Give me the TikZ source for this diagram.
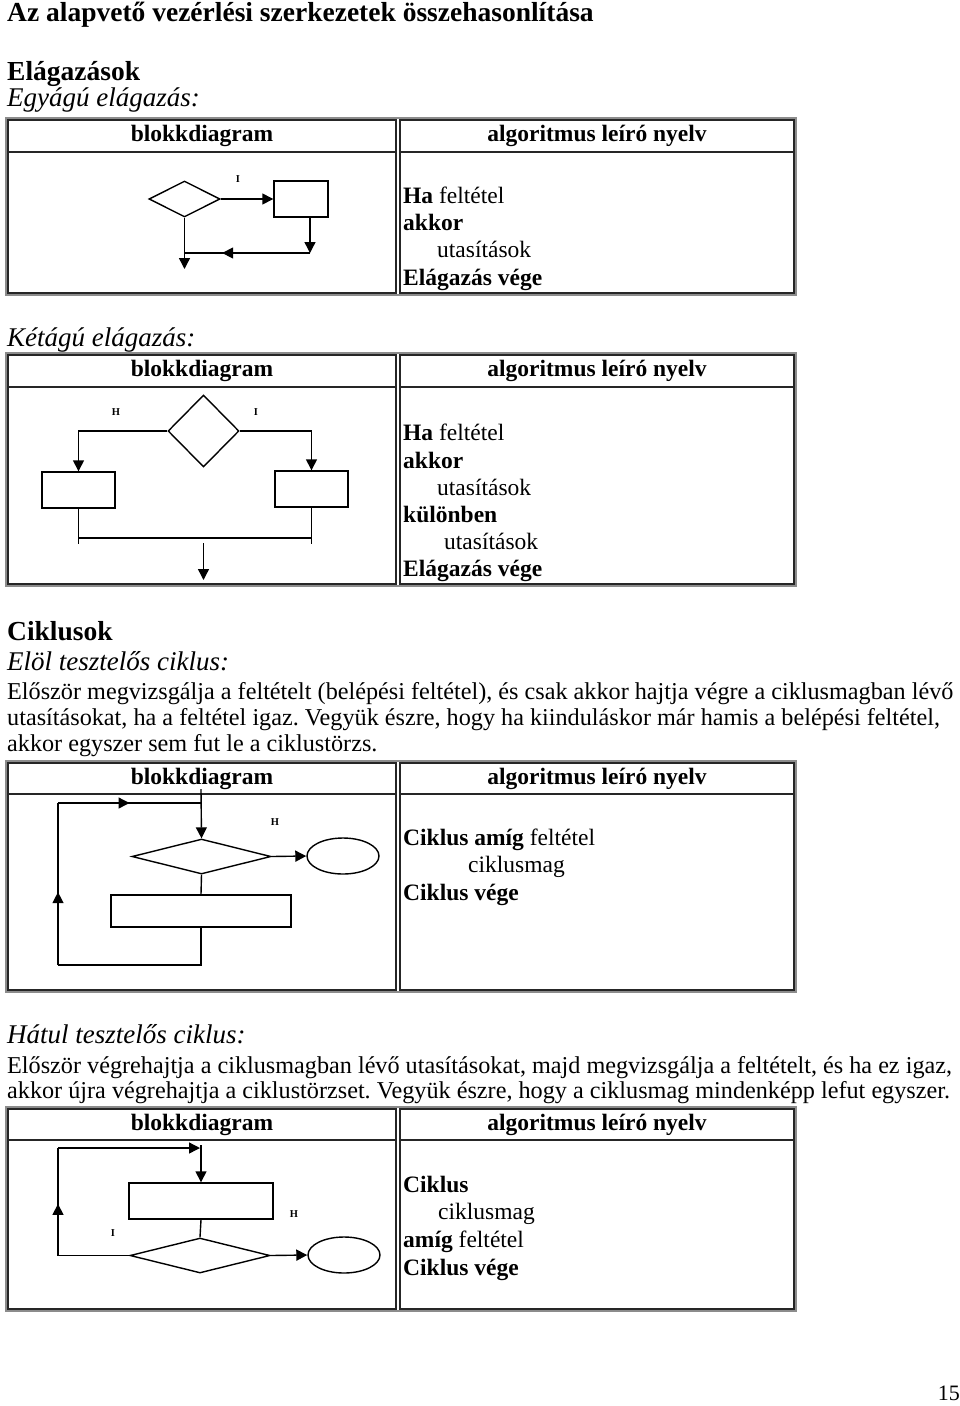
\documentclass[tikz,border=0pt]{standalone}
\usepackage{fontspec}
\setmainfont{Liberation Serif}
\usetikzlibrary{arrows.meta, shapes.geometric, decorations.markings}
\definecolor{rimgray}{HTML}{8C8C8C}
\definecolor{celldark}{HTML}{262626}
\frenchspacing

\begin{document}
\begin{tikzpicture}[x=1pt, y=-1pt,
  >={Triangle[length=11pt, width=11pt]},
  heading/.style={anchor=base west, inner sep=0pt, font=\fontsize{27.5}{33}\selectfont\bfseries},
  subhead/.style={anchor=base west, inner sep=0pt, font=\fontsize{27}{32}\selectfont\itshape},
  para/.style={anchor=base west, inner sep=0pt, font=\fontsize{24.2}{26}\selectfont},
  alg/.style={anchor=base west, inner sep=0pt, font=\fontsize{23.5}{27.3}\selectfont},
  colhead/.style={inner sep=0pt, font=\fontsize{23.5}{28}\selectfont\bfseries},
  lbl/.style={inner sep=0pt, font=\fontsize{10.5}{12}\selectfont\bfseries},
  tblout/.style={draw=rimgray, line width=2.5pt},
  tblcell/.style={draw=celldark, line width=1.3pt},
  decision/.style={diamond, draw, line width=1.4pt, inner sep=0pt},
  process/.style={rectangle, draw, line width=1.4pt, inner sep=0pt},
  terminal/.style={ellipse, draw, line width=1.4pt, inner sep=0pt},
  flow/.style={line width=1.4pt},
  arr/.style={->, line width=1.4pt},
  midarr/.style={line width=1.4pt, postaction={decorate},
    decoration={markings, mark=at position #1 with {\arrow{Triangle[length=11pt, width=11pt]}}}},
]

% Page
\useasboundingbox (0,0) rectangle (960,1406);
\fill[white] (0,0) rectangle (960,1406);

% =============================================
% Tables (frame + column headers)
% =============================================
\foreach \ytop/\yhd/\ybot/\tn in {120/152/293/ta, 355/387/584/tb,
                                  763/794/990/tc, 1109/1140/1309/td}{
  \draw[tblout] (6,\ytop-2) rectangle (796,\ybot+2);
  \draw[tblcell] (8,\ytop) rectangle (396,\yhd) (8,\yhd) rectangle (396,\ybot)
                 (400,\ytop) rectangle (794,\yhd) (400,\yhd) rectangle (794,\ybot);
  \node[colhead] (\tn-bd) at (202,{(\ytop+\yhd)/2}) {blokkdiagram};
  \node[colhead] (\tn-al) at (597,{(\ytop+\yhd)/2}) {algoritmus leíró nyelv};
}

% =============================================
% Headings and paragraphs
% =============================================
\node[heading] (title) at (7,21) {Az alapvető vezérlési szerkezetek összehasonlítása};
\node[heading] (elag) at (7,80.7) {Elágazások};
\node[subhead] (egyag) at (7,106.7) {Egyágú elágazás:};
\node[subhead] (ketag) at (7,346) {Kétágú elágazás:};
\node[heading] (cikl) at (7,640) {Ciklusok};
\node[subhead] (elol) at (7,670) {Elöl tesztelős ciklus:};
\node[para] (p1a) at (7,699.3) {Először megvizsgálja a feltételt (belépési feltétel), és csak akkor hajtja végre a ciklusmagban lévő};
\node[para] (p1b) at (7,725.5) {utasításokat, ha a feltétel igaz. Vegyük észre, hogy ha kiinduláskor már hamis a belépési feltétel,};
\node[para] (p1c) at (7,751.7) {akkor egyszer sem fut le a ciklustörzs.};
\node[subhead] (hatul) at (7,1043.3) {Hátul tesztelős ciklus:};
\node[para] (p2a) at (7,1073.3) {Először végrehajtja a ciklusmagban lévő utasításokat, majd megvizsgálja a feltételt, és ha ez igaz,};
\node[para] (p2b) at (7,1098.3) {akkor újra végrehajtja a ciklustörzset. Vegyük észre, hogy a ciklusmag mindenképp lefut egyszer.};
\node[para, anchor=base east, font=\fontsize{22}{26}\selectfont] (pgnum) at (960,1400) {15};

% =============================================
% Algorithm texts (right column)
% =============================================
\node[alg] (ta1) at (403,203) {\textbf{Ha} feltétel};
\node[alg] (ta2) at (403,230.3) {\textbf{akkor}};
\node[alg] (ta3) at (437,257.6) {utasítások};
\node[alg] (ta4) at (403,285) {\textbf{Elágazás vége}};

\node[alg] (tb1) at (403,440.7) {\textbf{Ha} feltétel};
\node[alg] (tb2) at (403,468) {\textbf{akkor}};
\node[alg] (tb3) at (437,495.2) {utasítások};
\node[alg] (tb4) at (403,522.4) {\textbf{különben}};
\node[alg] (tb5) at (444,549.6) {utasítások};
\node[alg] (tb6) at (403,576.8) {\textbf{Elágazás vége}};

\node[alg] (tc1) at (403,845) {\textbf{Ciklus amíg} feltétel};
\node[alg] (tc2) at (468,872.5) {ciklusmag};
\node[alg] (tc3) at (403,900) {\textbf{Ciklus vége}};

\node[alg] (td1) at (403,1192) {\textbf{Ciklus}};
\node[alg] (td2) at (438,1219.7) {ciklusmag};
\node[alg] (td3) at (403,1247.4) {\textbf{amíg} feltétel};
\node[alg] (td4) at (403,1275) {\textbf{Ciklus vége}};

% =============================================
% Diagram 1: one-way branch
% =============================================
\node[decision, minimum width=71pt, minimum height=36pt] (d1) at (184.5,199) {};
\node[process, minimum width=54pt, minimum height=36pt] (p1) at (301,199) {};
\node[lbl] (d1yes) at (238,179) {I};
\coordinate (j1r) at (310,253);
\coordinate (j1l) at (184.5,253);
\coordinate (out1) at (184.5,269);
\draw[arr] (d1.east) -- (p1.west);
\draw[arr] (p1.south -| j1r) -- (j1r);
\draw[midarr=0.7] (j1r) -- (j1l);
\draw[arr] (d1.south) -- (out1);

% =============================================
% Diagram 2: two-way branch
% =============================================
\node[decision, minimum width=71pt, minimum height=72pt] (d2) at (203.5,431) {};
\node[process, minimum width=73pt, minimum height=36pt] (p2l) at (78.5,490) {};
\node[process, minimum width=73pt, minimum height=36pt] (p2r) at (311.5,489) {};
\node[lbl] (d2no) at (116,412) {H};
\node[lbl] (d2yes) at (256,412) {I};
\coordinate (j2l) at (78.5,538);
\coordinate (j2r) at (311.5,538);
\coordinate (out2a) at (203.5,543);
\coordinate (out2b) at (203.5,580);
\draw[arr] (d2.west) -| (p2l.north);
\draw[arr] (d2.east) -| (p2r.north);
\draw[flow] (p2l.south) -- ++(0,35);
\draw[flow] (p2r.south) -- ++(0,36);
\draw[flow] (j2l) -- (j2r);
\draw[arr] (out2a) -- (out2b);

% =============================================
% Diagram 3: pre-test loop
% =============================================
\node[decision, minimum width=139pt, minimum height=35pt] (d3) at (201.5,856.5) {};
\node[terminal, minimum width=72pt, minimum height=36pt] (e3) at (343,856) {};
\node[process, minimum width=180pt, minimum height=32pt] (p3) at (201,911) {};
\node[lbl] (d3no) at (275,822) {H};
\coordinate (in3) at (201,789);
\coordinate (lb3) at (201,965);
\coordinate (ll3) at (58,965);
\coordinate (lt3) at (58,803);
\coordinate (lr3) at (201,803);
\draw[arr] (in3) -- (d3.north);
\draw[arr] (d3.east) -- (e3.west);
\draw[flow] (d3.south) -- (p3.north);
\draw[flow] (p3.south) -- (lb3) -- (ll3);
\draw[midarr=0.45] (ll3) -- (lt3);
\draw[midarr=0.5] (lt3) -- (lr3);

% =============================================
% Diagram 4: post-test loop
% =============================================
\node[process, minimum width=144pt, minimum height=36pt] (p4) at (201,1201) {};
\node[decision, minimum width=140pt, minimum height=35pt] (d4) at (200,1255.5) {};
\node[terminal, minimum width=72pt, minimum height=36pt] (e4) at (344,1255) {};
\node[lbl] (d4no) at (294,1214) {H};
\node[lbl] (d4yes) at (113,1233) {I};
\coordinate (in4) at (201,1145);
\coordinate (ll4) at (58,1255.5);
\coordinate (lt4) at (58,1148);
\coordinate (lr4) at (200,1148);
\draw[arr] (in4) -- (p4.north);
\draw[flow] (p4.south) -- (d4.north);
\draw[arr] (d4.east) -- (e4.west);
\draw[flow] (d4.west) -- (ll4);
\draw[midarr=0.48] (ll4) -- (lt4);
\draw[arr] (lt4) -- (lr4);

\end{tikzpicture}
\end{document}
